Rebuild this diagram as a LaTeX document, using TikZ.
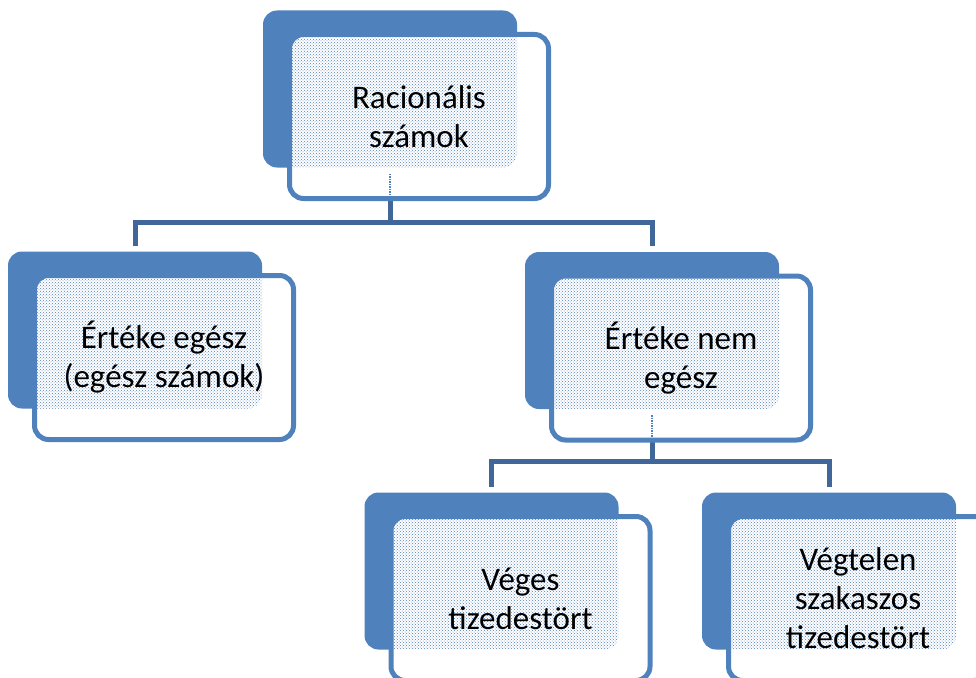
\documentclass[tikz,border=0pt]{standalone}
\usepackage{fontspec}
\setmainfont{Carlito}
\usetikzlibrary{patterns}

\definecolor{boxblue}{RGB}{79,129,189}
\definecolor{linkblue}{RGB}{64,102,154}

\tikzset{
	backbox/.style={rectangle, rounded corners=14pt, fill=boxblue, minimum width=254pt, minimum height=157pt, inner sep=0pt, outer sep=0pt},
	frontbox/.style={rectangle, rounded corners=14pt, fill=white, draw=boxblue, line width=5pt, minimum width=259pt, minimum height=164pt, inner sep=0pt, outer sep=0pt, align=center, text=black, font=\fontsize{33}{39}\selectfont,
		path picture={\fill[pattern=crosshatch dots, pattern color=boxblue, rounded corners=14pt] (#1.south west) rectangle (#1.north east);}},
	link/.style={draw=linkblue, line width=5pt},
	seen/.style={draw=boxblue, line width=1.5pt, densely dotted},
}

\begin{document}
\begin{tikzpicture}[x=1pt, y=-1pt]
	\useasboundingbox (0,0) rectangle (976,677);
	\clip (0,0) rectangle (976,677);
	
	% back boxes
	\node[backbox] (rac-b) at (390,89) {};
	\node[backbox] (egesz-b) at (135,330) {};
	\node[backbox] (nem-b) at (652,330.5) {};
	\node[backbox] (veges-b) at (491.5,571) {};
	\node[backbox] (vegt-b) at (829,571) {};
	
	% connectors
	\coordinate (bar1) at ([yshift=-55pt]rac-b.south);
	\coordinate (bar2) at ([yshift=-52pt]nem-b.south);
	\draw[link] (rac-b.south) -- (bar1);
	\draw[link] ([yshift=6pt]egesz-b.north) |- (bar1) -| ([yshift=6pt]nem-b.north);
	\draw[link] (nem-b.south) -- (bar2);
	\draw[link] ([yshift=6pt]veges-b.north) |- (bar2) -| ([yshift=6pt]vegt-b.north);
	
	% front boxes
	\node[frontbox=rac-b] (rac) at ([shift={(29pt,-27.5pt)}]rac-b.center) {Racionális\\számok};
	\node[frontbox=egesz-b] (egesz) at ([shift={(29pt,-27.5pt)}]egesz-b.center) {Értéke egész\\(egész számok)};
	\node[frontbox=nem-b] (nem) at ([shift={(29pt,-27.5pt)}]nem-b.center) {Értéke nem\\egész};
	\node[frontbox=veges-b] (veges) at ([shift={(29pt,-27.5pt)}]veges-b.center) {Véges\\tizedestört};
	\node[frontbox=vegt-b] (vegt) at ([shift={(29pt,-27.5pt)}]vegt-b.center) {Végtelen\\szakaszos\\tizedestört};
	
	\draw[seen] ([yshift=-6pt]rac-b.south) -- ([yshift=2.5pt]rac-b.south |- rac.south);
	\draw[seen] ([yshift=-6pt]nem-b.south) -- ([yshift=2.5pt]nem-b.south |- nem.south);
\end{tikzpicture}
\end{document}
